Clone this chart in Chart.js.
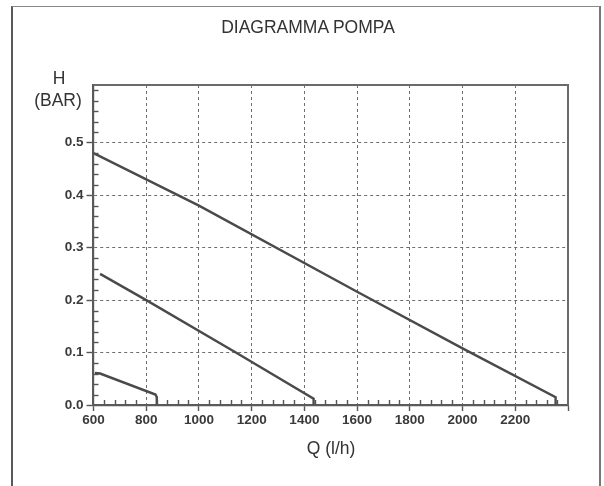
<!DOCTYPE html>
<html>
<head>
<meta charset="utf-8">
<script src="https://cdn.jsdelivr.net/npm/chart.js@4"></script>
<style>
  html, body { margin: 0; padding: 0; background: #fff; }
  #wrap { position: relative; width: 604px; height: 486px; overflow: hidden; background: #fff; }
  #frame { position: absolute; left: 11px; top: 6px; width: 586px; height: 520px;
           border-left: 2px solid #5a5a5a; border-top: 1.5px solid #8a8a8a; border-right: 2px solid #777; }
  canvas { position: absolute; left: 0; top: 0; }
  .txt { position: absolute; font-family: "Liberation Sans", Arial, sans-serif; color: #333; white-space: nowrap; transform: translate(-50%, -50%); }
</style>
</head>
<body>
<div id="wrap">
  <div id="frame"></div>
  <canvas id="c" width="604" height="486"></canvas>
  <div class="txt" style="left:308px; top:27px; font-size:17.5px;">DIAGRAMMA POMPA</div>
  <div class="txt" style="left:59px; top:78px; font-size:17.5px;">H</div>
  <div class="txt" style="left:58px; top:100px; font-size:17.5px;">(BAR)</div>
  <div class="txt" style="left:331px; top:448px; font-size:17.5px;">Q (l/h)</div>
</div>
<script>
// Curve 1 (top)
const q1 = [600, 1000, 1600, 2000, 2353, 2353];
const h1 = [0.48, 0.38, 0.216, 0.108, 0.015, 0];
// Curve 2 (middle)
const q2 = [625, 800, 1140, 1435, 1435];
const h2 = [0.25, 0.2, 0.1, 0.012, 0];
// Curve 3 (bottom)
const q3 = [605, 625, 835, 840, 840];
const h3 = [0.061, 0.06, 0.02, 0.015, 0];

const xTicks = [600, 800, 1000, 1200, 1400, 1600, 1800, 2000, 2200, 2400];
const xLabels = ['600', '800', '1000', '1200', '1400', '1600', '1800', '2000', '2200', ''];
const yTicks = [0, 0.1, 0.2, 0.3, 0.4, 0.5];
const yLabels = ['0.0', '0.1', '0.2', '0.3', '0.4', '0.5'];
const xMin = 600, xMax = 2400, xMinorStep = 40;
const yMin = 0, yMax = 0.61, yMinorStep = 0.02, yMinorTop = 0.6;

const toPts = (q, h) => q.map((v, i) => ({ x: v, y: h[i] }));

const lineStyle = { borderColor: '#4a4a4a', borderWidth: 2.4, pointRadius: 0, tension: 0, fill: false };

const frameAndMinor = {
  id: 'frameAndMinor',
  afterDraw(chart) {
    const { ctx, chartArea: a, scales: { x, y } } = chart;
    ctx.save();
    ctx.strokeStyle = '#555';
    ctx.lineWidth = 1.4;
    const nY = Math.round(yMinorTop / yMinorStep);
    for (let k = 1; k <= nY; k++) {
      if (k % 5 === 0 && k !== nY) continue;
      const py = Math.round(y.getPixelForValue(k * yMinorStep)) + 0.5;
      ctx.beginPath(); ctx.moveTo(a.left, py); ctx.lineTo(a.left + 5, py); ctx.stroke();
    }
    for (let v = xMin + xMinorStep; v < xMax; v += xMinorStep) {
      if ((v - xMin) % 200 === 0) continue;
      const px = Math.round(x.getPixelForValue(v)) + 0.5;
      ctx.beginPath(); ctx.moveTo(px, a.bottom); ctx.lineTo(px, a.bottom - 5); ctx.stroke();
    }
    ctx.strokeStyle = '#6a6a6a';
    ctx.lineWidth = 2;
    ctx.beginPath();
    ctx.moveTo(a.left, a.top); ctx.lineTo(a.right, a.top); ctx.lineTo(a.right, a.bottom);
    ctx.stroke();
    ctx.restore();
  }
};

new Chart(document.getElementById('c'), {
  type: 'line',
  data: {
    datasets: [
      Object.assign({ data: toPts(q1, h1) }, lineStyle),
      Object.assign({ data: toPts(q2, h2) }, lineStyle),
      Object.assign({ data: toPts(q3, h3) }, lineStyle)
    ]
  },
  options: {
    responsive: false,
    animation: false,
    layout: { padding: { top: 85, right: 36, left: 0, bottom: 0 } },
    plugins: { legend: { display: false }, tooltip: { enabled: false }, title: { display: false } },
    scales: {
      x: {
        type: 'linear', min: xMin, max: xMax,
        afterBuildTicks: s => { s.ticks = xTicks.map(v => ({ value: v })); },
        afterFit: s => { s.height = 81; },
        ticks: {
          autoSkip: false, maxRotation: 0, padding: 1,
          color: '#3a3a3a',
          font: { family: 'Liberation Sans', weight: 'bold', size: 13.5 },
          callback: (v) => xLabels[xTicks.indexOf(v)] ?? ''
        },
        grid: { color: '#6e6e6e', lineWidth: 1, tickLength: 6, tickColor: '#555', tickWidth: 1.4 },
        border: { color: '#5a5a5a', width: 2.2, dash: [3, 3] }
      },
      y: {
        type: 'linear', min: yMin, max: yMax,
        afterBuildTicks: s => { s.ticks = yTicks.map(v => ({ value: v })); },
        afterFit: s => { s.width = 93.5; },
        ticks: {
          padding: 3,
          color: '#3a3a3a',
          font: { family: 'Liberation Sans', weight: 'bold', size: 13.5 },
          callback: (v) => { const i = yTicks.findIndex(t => Math.abs(t - v) < 1e-9); return i >= 0 ? yLabels[i] : ''; }
        },
        grid: { color: '#6e6e6e', lineWidth: 1, tickLength: 7, tickColor: '#555', tickWidth: 1.4 },
        border: { color: '#5a5a5a', width: 2.2, dash: [3, 3] }
      }
    }
  },
  plugins: [frameAndMinor]
});
</script>
</body>
</html>
